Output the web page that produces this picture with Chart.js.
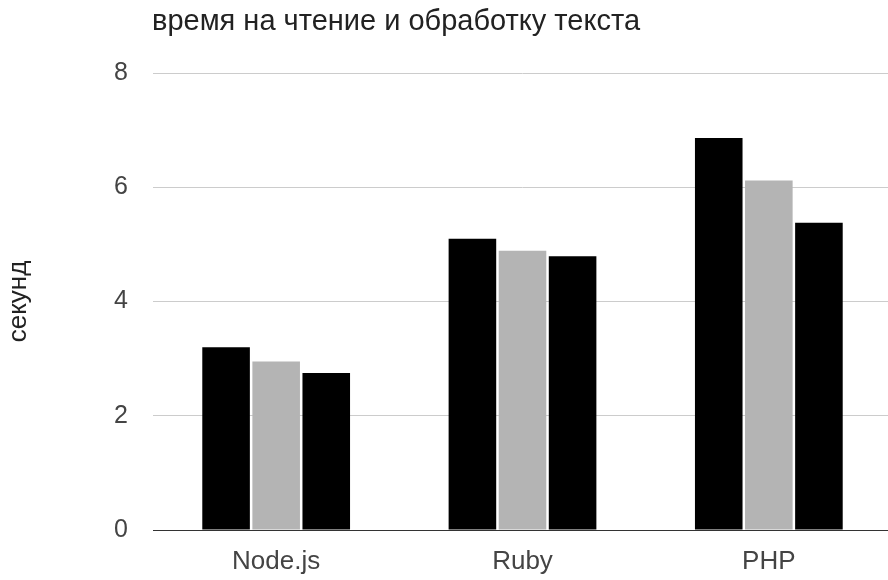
<!DOCTYPE html>
<html>
<head>
<meta charset="utf-8">
<script src="https://cdn.jsdelivr.net/npm/chart.js@4/dist/chart.umd.min.js"></script>
<style>
  html, body { margin: 0; padding: 0; background: #fff; overflow: hidden; }
  #wrap { width: 894px; height: 580px; }
</style>
</head>
<body>
<div id="wrap"><canvas id="graph-canvas"></canvas></div>
<script>
// data
const categories = ['Node.js', 'Ruby', 'PHP'];
const run1 = [3.20, 5.10, 6.86];
const run2 = [2.95, 4.89, 6.12];
const run3 = [2.75, 4.79, 5.38];
const yTicks = [0, 2, 4, 6, 8];
const chartTitle = 'время на чтение и обработку текста';
const yTitle = 'секунд';

const FONT = 'Liberation Sans, Arial, sans-serif';

// title drawn at the left edge of the plot area
const titlePlugin = {
  id: 'leftTitle',
  afterDraw(chart) {
    const ctx = chart.ctx;
    ctx.save();
    ctx.fillStyle = '#222';
    ctx.font = '29px ' + FONT;
    ctx.textBaseline = 'alphabetic';
    ctx.textAlign = 'left';
    ctx.fillText(chartTitle, chart.chartArea.left - 1, 30);
    ctx.restore();
  }
};

let chartdata = {
  labels: categories,
  datasets: [
    { label: '1', backgroundColor: '#000000', data: run1 },
    { label: '2', backgroundColor: '#b4b4b4', data: run2 },
    { label: '3', backgroundColor: '#000000', data: run3 }
  ]
};

let barGraph = new Chart(document.getElementById('graph-canvas'), {
  type: 'bar',
  data: chartdata,
  plugins: [titlePlugin],
  options: {
    responsive: true,
    maintainAspectRatio: false,
    animation: false,
    categoryPercentage: 0.61,
    barPercentage: 0.95,
    layout: { padding: { top: 73, right: 2, bottom: 3, left: 0 } },
    plugins: {
      legend: { display: false },
      tooltip: { enabled: false }
    },
    scales: {
      x: {
        afterFit(scale) { scale.height = 47; },
        grid: { display: false, drawTicks: false },
        border: { display: true, color: '#333', width: 1 },
        ticks: { color: '#444', font: { size: 26, family: FONT }, padding: 16 }
      },
      y: {
        min: 0,
        max: 8,
        afterBuildTicks(scale) {
          scale.ticks = yTicks.map(v => ({ value: v }));
        },
        afterFit(scale) { scale.width = 153; },
        grid: {
          drawTicks: false,
          color: ctx => (ctx.tick && ctx.tick.value === 0) ? '#333' : '#ccc'
        },
        border: { display: false },
        ticks: { color: '#444', font: { size: 25, family: FONT }, padding: 25 },
        title: {
          display: true,
          text: yTitle,
          color: '#222',
          font: { size: 26, family: FONT },
          padding: { top: 3, bottom: 0 }
        }
      }
    }
  }
});
</script>
</body>
</html>
